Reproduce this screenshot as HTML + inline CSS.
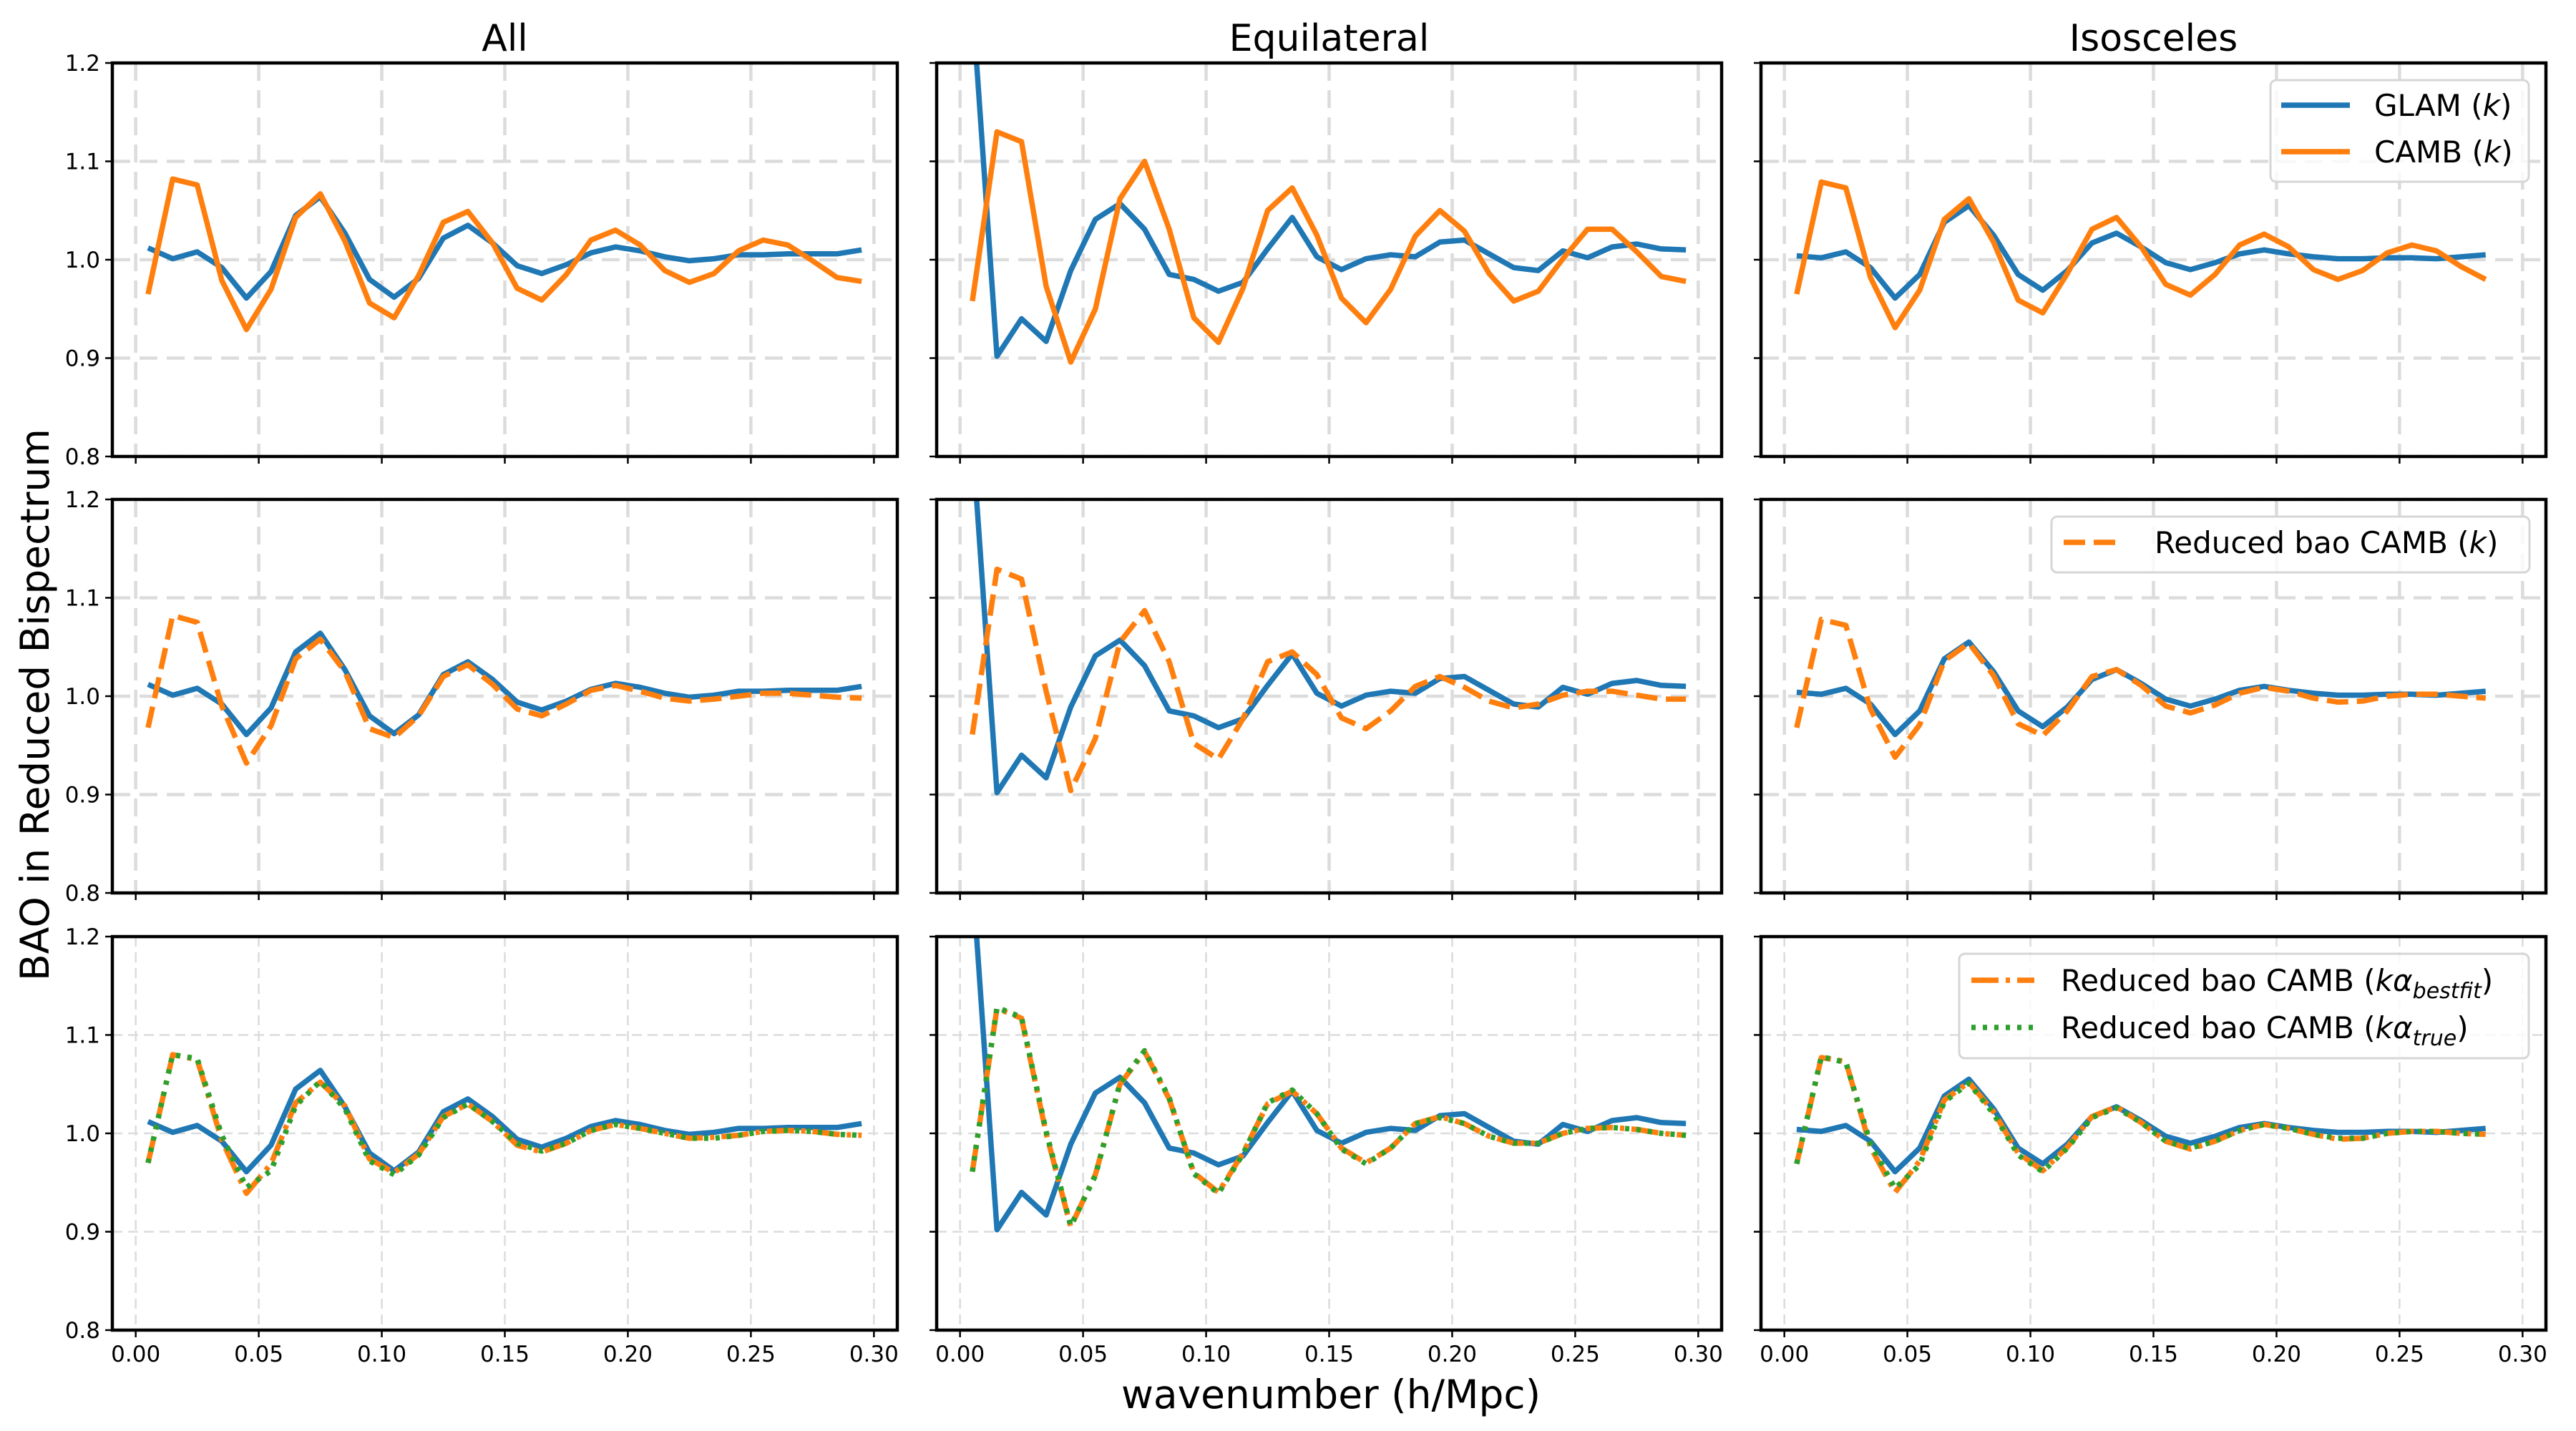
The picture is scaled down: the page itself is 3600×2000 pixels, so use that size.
<!DOCTYPE html>
<html><head><meta charset="utf-8">
<style>
html,body{margin:0;padding:0;background:#fff;}
svg{display:block;font-family:"DejaVu Sans","Liberation Sans",sans-serif;}
</style></head>
<body>
<svg id="fig" width="3600" height="2000" viewBox="0 0 3600 2000" xmlns="http://www.w3.org/2000/svg">
<text x="0" y="0" transform="translate(68,985) rotate(-90)" font-size="55" text-anchor="middle">BAO in Reduced Bispectrum</text>
<text x="1860" y="1968" font-size="55" text-anchor="middle">wavenumber (h/Mpc)</text>
</svg>
<script>
// ---- data ----
const kAll = [0.005,0.015,0.025,0.035,0.045,0.055,0.065,0.075,0.085,0.095,0.105,0.115,0.125,0.135,0.145,0.155,0.165,0.175,0.185,0.195,0.205,0.215,0.225,0.235,0.245,0.255,0.265,0.275,0.285,0.295];
const kIso = [0.005,0.015,0.025,0.035,0.045,0.055,0.065,0.075,0.085,0.095,0.105,0.115,0.125,0.135,0.145,0.155,0.165,0.175,0.185,0.195,0.205,0.215,0.225,0.235,0.245,0.255,0.265,0.275,0.285];
const glamAll = [1.012,1.001,1.008,0.992,0.961,0.988,1.045,1.064,1.027,0.980,0.962,0.981,1.022,1.035,1.017,0.994,0.986,0.995,1.007,1.013,1.009,1.003,0.999,1.001,1.005,1.005,1.006,1.006,1.006,1.010];
const cambAll = [0.965,1.082,1.076,0.979,0.929,0.970,1.043,1.067,1.019,0.956,0.941,0.984,1.038,1.049,1.017,0.971,0.959,0.985,1.020,1.030,1.015,0.989,0.977,0.986,1.009,1.020,1.015,0.999,0.982,0.978];
const redAll = [0.968,1.082,1.075,0.990,0.932,0.970,1.038,1.058,1.025,0.967,0.958,0.980,1.020,1.032,1.012,0.987,0.980,0.992,1.006,1.011,1.005,0.998,0.995,0.997,1.000,1.003,1.003,1.001,0.999,0.998];
const bestAll = [0.970,1.080,1.075,0.993,0.939,0.969,1.031,1.052,1.028,0.974,0.960,0.979,1.017,1.030,1.012,0.988,0.981,0.990,1.003,1.009,1.005,1.000,0.995,0.996,0.998,1.002,1.003,1.002,0.999,0.998];
const trueAll = [0.970,1.080,1.076,0.998,0.945,0.962,1.028,1.053,1.025,0.972,0.958,0.978,1.016,1.030,1.012,0.990,0.982,0.990,1.003,1.009,1.005,1.000,0.995,0.995,0.998,1.002,1.003,1.002,0.999,0.998];
const glamEq = [1.262,0.902,0.940,0.917,0.989,1.041,1.057,1.031,0.985,0.980,0.968,0.977,1.011,1.043,1.003,0.990,1.001,1.005,1.003,1.018,1.020,1.006,0.992,0.989,1.009,1.002,1.013,1.016,1.011,1.010];
const cambEq = [0.958,1.130,1.120,0.973,0.896,0.950,1.062,1.100,1.031,0.941,0.916,0.971,1.050,1.073,1.025,0.961,0.936,0.970,1.024,1.050,1.029,0.986,0.958,0.968,1.001,1.031,1.031,1.008,0.983,0.978];
const redEq = [0.961,1.129,1.119,1.005,0.904,0.957,1.055,1.087,1.035,0.952,0.936,0.977,1.035,1.045,1.022,0.978,0.967,0.985,1.010,1.020,1.009,0.995,0.988,0.992,1.001,1.005,1.005,1.001,0.997,0.997];
const bestEq = [0.961,1.127,1.117,1.000,0.905,0.958,1.050,1.083,1.035,0.960,0.940,0.980,1.030,1.043,1.020,0.985,0.970,0.985,1.010,1.017,1.010,0.997,0.990,0.990,1.000,1.005,1.006,1.004,1.000,0.998];
const trueEq = [0.961,1.128,1.118,1.002,0.906,0.957,1.051,1.084,1.036,0.959,0.939,0.979,1.031,1.044,1.020,0.984,0.969,0.985,1.010,1.016,1.010,0.997,0.990,0.990,1.000,1.005,1.006,1.004,1.000,0.998];
const glamIso = [1.004,1.002,1.008,0.992,0.961,0.985,1.038,1.055,1.025,0.985,0.969,0.989,1.017,1.027,1.013,0.997,0.990,0.997,1.006,1.010,1.006,1.003,1.001,1.001,1.002,1.002,1.001,1.003,1.005];
const cambIso = [0.965,1.079,1.073,0.982,0.931,0.969,1.041,1.062,1.018,0.959,0.946,0.986,1.031,1.043,1.013,0.975,0.964,0.985,1.015,1.026,1.013,0.990,0.980,0.989,1.007,1.015,1.009,0.993,0.980];
const redIso = [0.968,1.078,1.072,0.987,0.938,0.971,1.036,1.054,1.021,0.972,0.960,0.985,1.020,1.027,1.011,0.990,0.983,0.991,1.003,1.009,1.005,0.998,0.994,0.995,1.000,1.002,1.002,1.000,0.998];
const bestIso = [0.969,1.077,1.073,0.986,0.940,0.972,1.034,1.052,1.022,0.980,0.962,0.986,1.017,1.027,1.011,0.992,0.984,0.992,1.003,1.009,1.005,0.999,0.994,0.995,1.000,1.002,1.002,1.000,0.999];
const trueIso = [0.969,1.078,1.072,0.990,0.944,0.968,1.032,1.051,1.020,0.978,0.961,0.985,1.016,1.026,1.011,0.992,0.985,0.992,1.003,1.009,1.005,0.999,0.995,0.995,1.000,1.002,1.002,1.000,0.999];
const xTickVals = [0.00,0.05,0.10,0.15,0.20,0.25,0.30];
const xTickLabels = ["0.00","0.05","0.10","0.15","0.20","0.25","0.30"];
const yTickVals = [0.8,0.9,1.0,1.1,1.2];
const yTickLabels = ["0.8","0.9","1.0","1.1","1.2"];
const colTitles = ["All","Equilateral","Isosceles"];

// ---- layout ----
const NS = "http://www.w3.org/2000/svg";
const svg = document.getElementById('fig');
const colX = [157,1309,2461], rowY = [88,698,1309], PW = 1097, PH = 550;
const XMIN = -0.0095, XMAX = 0.3095, YMIN = 0.8, YMAX = 1.2;
const BLUE = "#1f77b4", ORANGE = "#ff7f0e", GREEN = "#2ca02c";
function el(tag, attrs, parent){ const e = document.createElementNS(NS, tag); for (const k in attrs) e.setAttribute(k, attrs[k]); (parent||svg).appendChild(e); return e; }

const panels = [
 [{k:kAll, series:[[glamAll,BLUE,null,'glam-line'],[cambAll,ORANGE,null,'camb-line']]},
  {k:kAll, series:[[glamEq,BLUE,null,'glam-line'],[cambEq,ORANGE,null,'camb-line']]},
  {k:kIso, series:[[glamIso,BLUE,null,'glam-line'],[cambIso,ORANGE,null,'camb-line']]}],
 [{k:kAll, series:[[glamAll,BLUE,null,'glam-line'],[redAll,ORANGE,'30 12','reduced-camb-line']]},
  {k:kAll, series:[[glamEq,BLUE,null,'glam-line'],[redEq,ORANGE,'30 12','reduced-camb-line']]},
  {k:kIso, series:[[glamIso,BLUE,null,'glam-line'],[redIso,ORANGE,'30 12','reduced-camb-line']]}],
 [{k:kAll, series:[[glamAll,BLUE,null,'glam-line'],[bestAll,ORANGE,'38 10 6 10','bestfit-line'],[trueAll,GREEN,'6 10','true-line']]},
  {k:kAll, series:[[glamEq,BLUE,null,'glam-line'],[bestEq,ORANGE,'38 10 6 10','bestfit-line'],[trueEq,GREEN,'6 10','true-line']]},
  {k:kIso, series:[[glamIso,BLUE,null,'glam-line'],[bestIso,ORANGE,'38 10 6 10','bestfit-line'],[trueIso,GREEN,'6 10','true-line']]}]
];

for (let r=0;r<3;r++){
 for (let c=0;c<3;c++){
  const x0 = colX[c], y0 = rowY[r];
  const sx = v => x0 + (v - XMIN)/(XMAX - XMIN)*PW;
  const sy = v => y0 + PH - (v - YMIN)/(YMAX - YMIN)*PH;
  const g = el('g', {});
  
  
  const cid = 'clip'+r+c;
  const cp = el('clipPath', {id:cid}, g);
  el('rect', {x:x0, y:y0, width:PW, height:PH}, cp);
  const gw = r<2 ? 4.5 : 2.5, gd = r<2 ? '25 13' : '14 8';
  const grid = el('g', {stroke:'#dcdcdc','stroke-width':gw,'stroke-dasharray':gd,'clip-path':'url(#'+cid+')'}, g);
  
  
  xTickVals.forEach(v => el('line',{x1:sx(v),x2:sx(v),y1:y0,y2:y0+PH},grid));
  yTickVals.forEach(v => el('line',{x1:x0,x2:x0+PW,y1:sy(v),y2:sy(v)},grid));
  const p = panels[r][c];
  p.series.forEach(s => {
   const pts = s[0].map((v,i) => sx(p.k[i]).toFixed(1)+','+sy(v).toFixed(1)).join(' ');
   const pl = el('polyline', {points:pts, fill:'none', stroke:s[1], 'stroke-width':7.5, 'stroke-linejoin':'round', 'clip-path':'url(#'+cid+')'}, g);
   if (s[2]) pl.setAttribute('stroke-dasharray', s[2]);
   
   
  });
  xTickVals.forEach((v,i) => {
   el('line',{x1:sx(v),x2:sx(v),y1:y0+PH,y2:y0+PH+10,stroke:'#000','stroke-width':2.5},g);
   if (r===2){
    const t = el('text',{x:sx(v),y:y0+PH+44,'font-size':31,'text-anchor':'middle'},g);
    t.textContent = xTickLabels[i];
    
    
   }
  });
  yTickVals.forEach((v,i) => {
   el('line',{x1:x0-10,x2:x0,y1:sy(v),y2:sy(v),stroke:'#000','stroke-width':2.5},g);
   if (c===0){
    const t = el('text',{x:x0-17,y:sy(v)+11,'font-size':31,'text-anchor':'end'},g);
    t.textContent = yTickLabels[i];
    
    
   }
  });
  const fr = el('rect',{x:x0,y:y0,width:PW,height:PH,fill:'none',stroke:'#000','stroke-width':4.5},g);
  
  
  if (r===0){
   const t = el('text',{x:x0+PW/2,y:71,'font-size':52,'text-anchor':'middle'},g);
   t.textContent = colTitles[c];
   
   
  }
 }
}

function legend(name, bx, by, bw, bh, entries){
 const g = el('g',{});
 
 
 el('rect',{x:bx,y:by,width:bw,height:bh,rx:8,fill:'rgba(255,255,255,0.8)',stroke:'#d6d6d6','stroke-width':3},g);
 entries.forEach(e => {
  const ln = el('line',{x1:e.lx1,x2:e.lx2,y1:e.y,y2:e.y,stroke:e.color,'stroke-width':7.5},g);
  if (e.dash) ln.setAttribute('stroke-dasharray', e.dash);
  
  
  const t = el('text',{x:e.tx,y:e.y+15,'font-size':42},g);
  t.innerHTML = e.html;
  
  
 });
}
legend('legend-top', 3173, 112, 361, 142, [
 {lx1:3188,lx2:3284,y:147,color:BLUE,tx:3318,html:'GLAM (<tspan font-style="italic">k</tspan>)'},
 {lx1:3188,lx2:3284,y:212,color:ORANGE,tx:3318,html:'CAMB (<tspan font-style="italic">k</tspan>)'}]);
legend('legend-middle', 2867, 722, 668, 78, [
 {lx1:2884,lx2:2962,y:758,color:ORANGE,dash:'30 12',tx:3011,html:'Reduced bao CAMB (<tspan font-style="italic">k</tspan>)'}]);
legend('legend-bottom', 2738, 1333, 796, 146, [
 {lx1:2755,lx2:2843,y:1370,color:ORANGE,dash:'38 10 6 10',tx:2880,html:'Reduced bao CAMB (<tspan font-style="italic">kα</tspan><tspan font-style="italic" font-size="30" dy="10">bestfit</tspan><tspan dy="-10">)</tspan>'},
 {lx1:2755,lx2:2843,y:1436,color:GREEN,dash:'6 10',tx:2880,html:'Reduced bao CAMB (<tspan font-style="italic">kα</tspan><tspan font-style="italic" font-size="30" dy="10">true</tspan><tspan dy="-10">)</tspan>'}]);
</script>
</body></html>
